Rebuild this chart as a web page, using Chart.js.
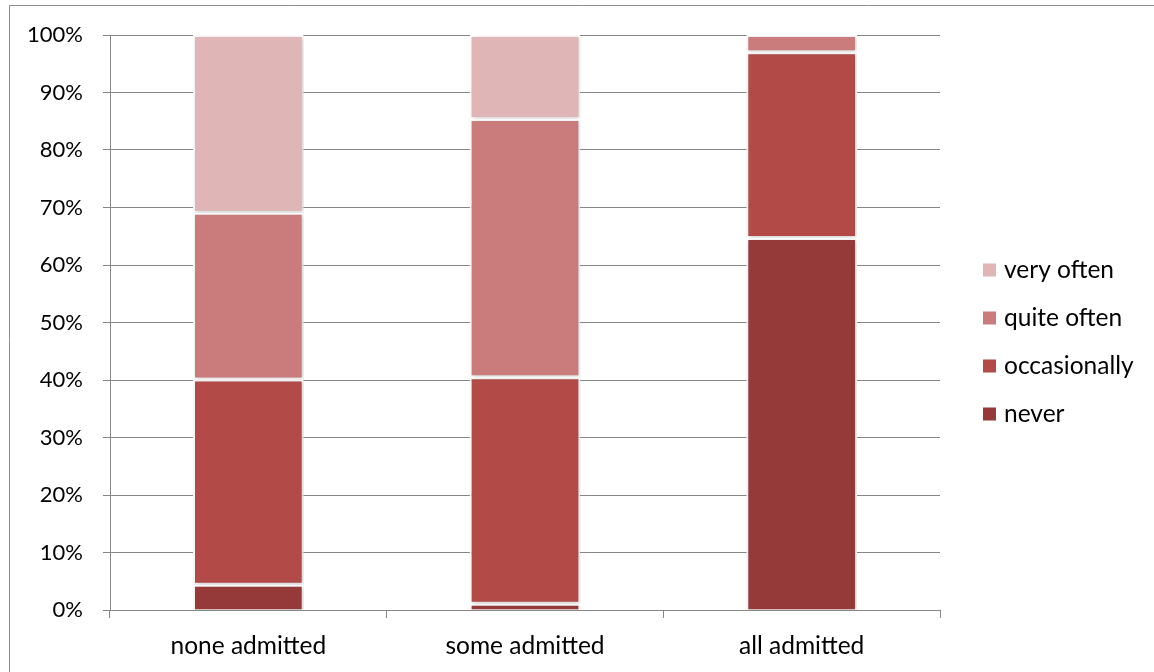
<!DOCTYPE html>
<html>
<head>
<meta charset="utf-8">
<script src="https://cdn.jsdelivr.net/npm/chart.js@4/dist/chart.umd.min.js"></script>
<style>
  html, body { margin: 0; padding: 0; background: #fff; }
  canvas { display: block; }
</style>
</head>
<body>
<canvas id="c" width="1154" height="672"></canvas>
<script>
// Admission groups and the share of answers (percent) in each frequency band
const categories = ['none admitted', 'some admitted', 'all admitted'];
const never        = [4.4, 1.1, 64.7];
const occasionally = [35.7, 39.4, 32.3];
const quiteOften   = [29.0, 44.9, 3.0];
const veryOften    = [30.9, 14.6, 0];
const yTicks = [0, 10, 20, 30, 40, 50, 60, 70, 80, 90, 100];

const FONT = 'Lato, "Liberation Sans", sans-serif';
const TEXT_SIZE = 24.5;
const TICK_SIZE = 22;
const GRID = '#868686';

// thin frame around the whole figure
const framePlugin = {
  id: 'frame',
  beforeDraw(chart) {
    const ctx = chart.ctx;
    ctx.save();
    ctx.strokeStyle = '#8c8c8c';
    ctx.lineWidth = 1;
    ctx.beginPath();
    ctx.moveTo(9.5, chart.height + 2);
    ctx.lineTo(9.5, 5.5);
    ctx.lineTo(chart.width + 2, 5.5);
    ctx.stroke();
    ctx.restore();
  }
};

// soft drop shadow under the bar segments
const shadowPlugin = {
  id: 'barShadow',
  beforeDatasetsDraw(chart) {
    const ctx = chart.ctx;
    ctx.save();
    ctx.shadowColor = 'rgba(0,0,0,0.22)';
    ctx.shadowBlur = 4;
    ctx.shadowOffsetX = 1;
    ctx.shadowOffsetY = 1;
  },
  afterDatasetsDraw(chart) {
    chart.ctx.restore();
  }
};

// legend on the right, top entry = last series
const sideLegend = {
  id: 'sideLegend',
  afterDraw(chart) {
    const ctx = chart.ctx;
    const ds = chart.data.datasets.slice().reverse();
    const x0 = 983, y0 = 270, step = 48, box = 13;
    ctx.save();
    ctx.font = TEXT_SIZE + 'px ' + FONT;
    ctx.textBaseline = 'middle';
    ctx.textAlign = 'left';
    ds.forEach((d, i) => {
      const y = y0 + i * step;
      ctx.fillStyle = d.backgroundColor;
      ctx.fillRect(x0, y - box / 2, box, box);
      ctx.fillStyle = '#000';
      ctx.fillText(d.label, x0 + 21, y);
    });
    ctx.restore();
  }
};

const mkSet = (label, data, color, skip) => ({
  label, data,
  backgroundColor: color,
  borderColor: '#ffffff',
  borderWidth: 2,
  borderSkipped: skip,
  categoryPercentage: 1,
  barPercentage: 0.4
});

new Chart(document.getElementById('c'), {
  type: 'bar',
  data: {
    labels: categories,
    datasets: [
      mkSet('never', never, '#953a39', 'start'),
      mkSet('occasionally', occasionally, '#b24b48', false),
      mkSet('quite often', quiteOften, '#c97c7b', false),
      mkSet('very often', veryOften, '#dfb6b5', false)
    ]
  },
  options: {
    responsive: false,
    animation: false,
    layout: { padding: { top: 35, right: 214, left: 0, bottom: 0 } },
    plugins: { legend: { display: false }, tooltip: { enabled: false } },
    scales: {
      x: {
        stacked: true,
        offset: true,
        afterFit(s) { s.height = 62; },
        grid: { offset: true, drawOnChartArea: false, drawTicks: true, tickLength: 8, color: GRID },
        border: { color: GRID, width: 1 },
        ticks: { color: '#000', font: { family: FONT, size: TEXT_SIZE }, padding: 13, maxRotation: 0 }
      },
      y: {
        stacked: true,
        min: 0, max: 100,
        afterFit(s) { s.width = 110; },
        afterBuildTicks(s) { s.ticks = yTicks.map(v => ({ value: v })); },
        grid: { color: GRID, tickLength: 7, lineWidth: 1 },
        border: { color: GRID, width: 1 },
        ticks: {
          color: '#000',
          font: { family: FONT, size: TICK_SIZE },
          padding: 20,
          callback: v => v + '%'
        }
      }
    }
  },
  plugins: [framePlugin, shadowPlugin, sideLegend]
});
</script>
</body>
</html>
